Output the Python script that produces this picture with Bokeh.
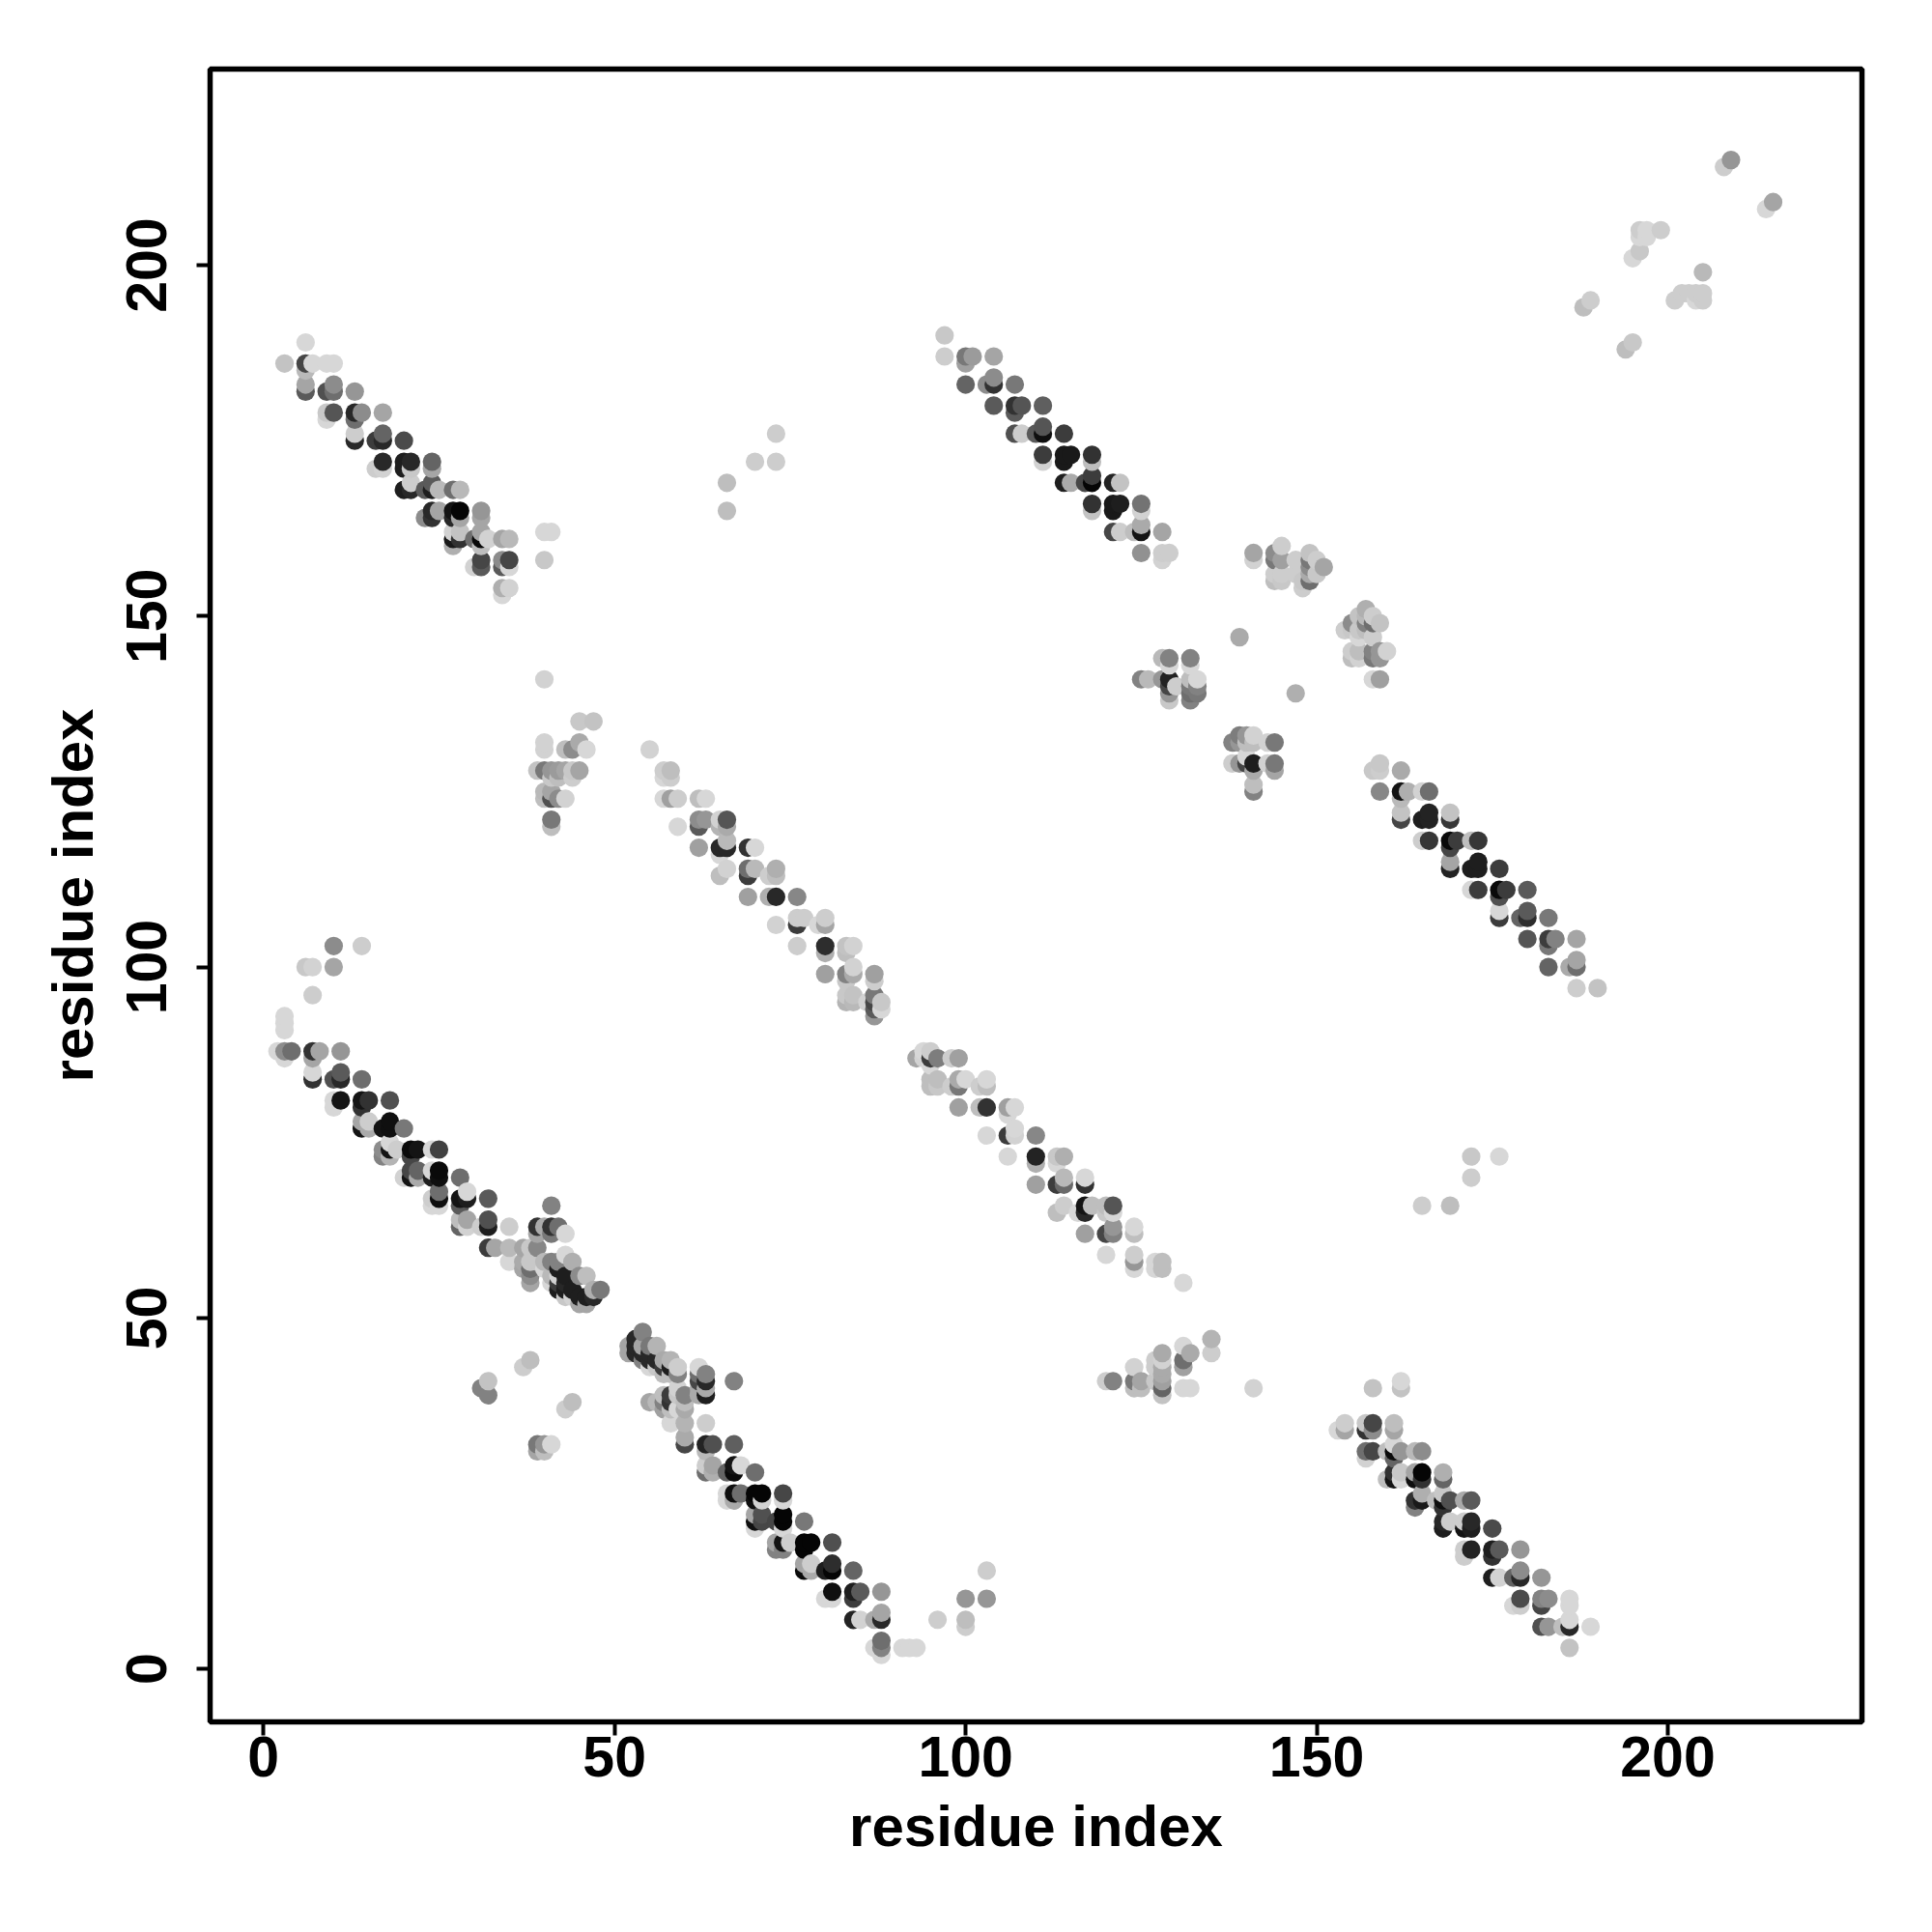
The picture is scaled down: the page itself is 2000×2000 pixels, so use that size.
from bokeh.plotting import figure
from bokeh.models import ColumnDataSource, FixedTicker, Range1d
from bokeh.embed import file_html
from bokeh.resources import INLINE
import numpy as np

tick_values = [0, 50, 100, 150, 200]
axis_title = "residue index"

# (residue i, residue j, grey level)
block_top_left = [(6,189,215),(3,186,195),(6,186,70),(7,186,215),(9,186,215),(10,186,215),(6,185,185),(6,183,165),(6,182,90),(9,182,80),(10,183,140),(10,182,110),(13,182,150),(9,179,200),(9,178,215),(10,179,85),(13,179,40),(13,178,110),(14,179,140),(17,179,165),(13,176,205),(13,175,40),(16,175,60),(17,176,100),(17,175,40),(20,175,75),(17,172,40),(16,171,205),(17,171,210),(20,172,30),(20,171,30),(21,172,40),(21,171,200),(24,172,100),(24,171,165),(20,168,30),(21,168,40),(21,169,205),(23,168,90),(24,169,90),(24,168,30),(25,168,185),(27,168,110),(28,168,185),(23,164,140),(24,165,40),(24,164,50),(25,165,165),(27,165,20),(27,164,40),(28,165,5),(28,164,165),(31,165,150),(31,164,165),(27,162,210),(27,161,25),(27,160,175),(28,162,195),(28,161,50),(30,161,110),(31,162,165),(31,161,10),(31,160,190),(32,161,210),(34,161,165),(35,161,185),(40,162,215),(41,162,215),(40,158,200),(30,157,210),(31,158,70),(31,157,90),(34,158,140),(34,157,90),(35,158,70),(35,157,215),(34,154,175),(34,153,215),(35,154,210)]
block_top_middle = [(97,190,200),(97,187,205),(100,187,120),(100,186,160),(101,187,155),(104,187,165),(100,183,100),(103,183,140),(104,184,140),(104,183,50),(107,183,120),(104,180,90),(107,180,50),(107,179,90),(108,180,85),(111,180,95),(107,176,80),(108,176,205),(110,176,90),(111,177,85),(111,176,15),(114,176,60),(111,173,60),(111,172,210),(114,173,25),(114,172,25),(115,173,25),(118,173,50),(118,172,190),(114,169,30),(115,169,170),(117,169,70),(118,170,60),(118,169,5),(121,169,35),(122,169,195),(118,166,50),(118,165,195),(121,166,25),(121,165,25),(122,166,30),(125,166,115),(125,165,210),(121,162,70),(122,162,205),(124,162,190),(125,163,170),(125,162,20),(128,162,165),(125,159,145),(128,159,205),(128,158,210),(129,159,205)]
block_left = [(3,93,215),(3,92,215),(3,91,215),(3,87,215),(2,88,215),(3,88,140),(4,88,110),(7,88,50),(7,87,165),(8,88,165),(11,88,150),(7,85,215),(7,84,50),(10,84,80),(11,85,90),(11,84,40),(14,84,110),(10,81,215),(10,80,215),(11,81,20),(14,81,20),(14,80,50),(15,81,50),(18,81,80),(14,78,165),(14,77,20),(15,78,205),(15,77,170),(17,77,20),(18,78,15),(18,77,15),(20,77,120),(17,74,140),(17,73,130),(18,75,215),(18,74,20),(18,73,180),(19,74,205),(21,74,10),(21,73,70),(22,74,20),(24,74,215),(25,74,65),(20,70,210),(21,71,70),(21,70,20),(22,71,100),(22,70,170),(24,71,215),(24,70,30),(25,71,10),(25,70,15),(28,70,110),(24,67,205),(24,66,215),(25,68,110),(25,67,15),(25,66,215),(28,67,20),(28,66,90),(29,68,215),(29,67,30),(32,67,90),(28,64,190),(28,63,100),(29,64,165),(29,63,210),(31,63,205),(32,64,80),(32,63,30),(35,63,205),(32,60,60),(33,60,165),(35,60,185),(37,60,165),(38,60,200),(39,60,135),(35,58,215),(37,58,170),(37,57,165),(38,58,200),(38,57,110),(38,56,140),(38,55,165)]
block_knot = [(41,66,130),(39,63,50),(40,63,170),(41,63,50),(42,63,110),(43,62,215),(39,62,165),(41,62,120),(39,58,200),(40,58,185),(40,57,215),(41,58,130),(43,59,215),(42,58,130),(44,58,175),(45,56,140),(46,56,190),(47,54,175),(48,54,120),(42,57,30),(42,56,210),(42,55,60),(43,56,30),(43,55,40),(44,54,30),(44,53,210),(45,53,30),(45,52,165),(46,53,30),(46,52,165),(47,53,40),(41,56,185),(41,55,215),(42,54,30),(43,54,30),(43,53,200)]
block_bottom = [(54,48,130),(52,46,165),(52,45,165),(53,47,40),(53,46,40),(53,45,40),(54,46,165),(54,45,40),(54,44,130),(55,46,120),(55,45,40),(55,44,40),(55,43,215),(56,46,180),(56,44,40),(56,43,200),(57,44,170),(57,43,60),(57,42,190),(58,44,180),(58,43,30),(58,42,190),(59,43,205),(59,42,130),(62,43,215),(62,42,110),(62,41,70),(63,42,130),(63,41,40),(63,40,170),(63,39,30),(62,40,170),(62,39,170),(67,41,130),(55,38,165),(56,38,185),(57,39,190),(57,38,130),(57,37,160),(58,39,60),(58,38,50),(58,37,190),(58,35,215),(59,40,210),(59,39,200),(59,37,215),(60,39,130),(60,38,190),(60,37,170),(60,35,180),(60,33,170),(60,32,70),(63,35,205),(63,32,35),(63,31,185),(64,32,80),(67,32,95),(63,29,205),(63,28,110),(64,29,165),(64,28,175),(66,28,100),(67,29,20),(67,28,10),(68,29,215),(70,28,110),(66,25,215),(66,24,215),(67,25,15),(67,24,170),(68,25,110),(70,25,5),(70,24,15),(71,25,5),(71,24,210),(74,25,70),(74,24,215),(70,22,165),(70,21,15),(70,20,215),(71,22,80),(71,21,70),(73,21,70),(74,22,5),(74,21,5),(74,20,215),(77,21,120),(73,18,165),(73,17,130),(74,18,20),(74,17,130),(75,18,205),(77,18,5),(77,17,5),(78,18,5),(81,18,80),(77,15,165),(77,14,10),(78,15,205),(78,14,170),(80,14,30),(81,15,45),(81,14,5),(84,14,100),(80,10,215),(81,11,15),(81,10,215),(84,11,30),(84,10,60),(85,11,90),(88,11,150),(84,7,35),(85,7,210),(87,7,170),(88,8,165),(88,7,40),(96,7,205),(87,3,215),(88,4,110),(88,3,130),(88,2,215),(91,3,215),(92,3,215),(93,3,215),(100,10,150),(100,7,190),(100,6,205),(103,10,150),(103,14,205)]
block_bottom_right = [(158,40,195),(162,41,215),(162,40,195),(153,34,215),(154,35,205),(154,34,165),(157,34,50),(157,35,200),(158,35,70),(158,34,140),(161,35,190),(161,34,165),(157,31,110),(157,30,210),(158,31,70),(160,31,190),(161,32,215),(161,31,10),(161,30,100),(162,31,150),(164,31,185),(165,31,140),(160,27,190),(161,28,50),(161,27,20),(162,28,200),(162,27,215),(164,28,165),(164,27,15),(165,28,5),(165,27,50),(168,28,175),(168,27,100),(164,24,50),(164,23,130),(165,25,175),(165,24,25),(167,24,190),(168,25,200),(168,24,15),(168,23,50),(169,24,80),(171,24,170),(172,24,90),(168,21,40),(168,20,30),(169,21,205),(171,21,205),(171,20,20),(172,21,40),(172,20,30),(175,20,75),(171,17,205),(171,16,205),(172,17,35),(175,17,30),(175,16,50),(176,17,90),(179,17,150),(175,13,30),(176,13,210),(178,13,100),(179,14,140),(179,13,40),(182,13,150),(178,9,215),(179,10,75),(179,9,205),(182,10,130),(182,9,70),(183,10,140),(186,10,215),(186,9,215),(182,6,80),(183,6,150),(185,6,190),(186,7,215),(186,6,40),(189,6,215),(186,3,195)]
block_right = [(158,128,200),(159,129,200),(159,128,205),(162,128,170),(159,125,135),(162,125,20),(162,124,185),(163,125,175),(165,125,210),(166,125,110),(162,122,195),(162,121,70),(165,121,30),(166,122,35),(166,121,35),(169,122,195),(169,121,55),(165,118,205),(166,118,55),(169,118,10),(169,117,70),(170,118,60),(172,118,190),(173,118,55),(169,115,165),(169,114,35),(172,114,30),(173,115,30),(173,114,30),(176,114,60),(172,111,215),(173,111,60),(176,111,10),(176,110,80),(177,111,60),(180,111,90),(176,108,215),(176,107,60),(179,107,100),(180,108,90),(180,107,45),(183,107,120),(180,104,85),(183,104,60),(183,103,120),(184,104,130),(187,104,165),(183,100,100),(186,100,170),(187,101,165),(187,100,110),(187,97,205),(190,97,195)]
block_centre = [(55,131,210),(57,128,205),(57,127,215),(58,128,190),(58,127,205),(57,124,215),(58,124,160),(59,124,205),(62,124,190),(63,124,215),(59,120,215),(62,121,140),(62,120,90),(63,121,150),(65,121,210),(65,120,180),(66,121,85),(66,120,170),(62,117,160),(65,117,40),(65,116,215),(66,118,185),(66,117,40),(69,117,50),(70,117,215),(65,113,190),(66,114,210),(69,114,110),(69,113,60),(70,114,185),(72,113,205),(73,114,175),(73,113,190),(69,110,160),(72,110,175),(73,110,40),(76,110,135),(73,106,210),(76,107,205),(76,106,60),(77,107,205),(79,106,215),(80,107,205),(80,106,165),(76,103,205),(80,103,45),(80,102,175),(83,103,195),(83,102,190),(84,103,210),(80,99,160),(83,99,130),(83,98,200),(84,100,210),(84,99,170),(87,99,160),(87,98,205),(83,96,200),(83,95,180),(84,96,195),(84,95,185),(86,95,210),(87,96,120),(87,95,70),(87,94,90),(87,93,150),(88,95,200),(88,94,215)]
block_centre_low = [(93,87,165),(94,88,215),(94,87,210),(95,88,205),(95,87,60),(95,86,215),(96,87,125),(98,87,205),(99,87,160),(95,84,190),(95,83,190),(96,84,190),(96,83,200),(98,83,205),(99,84,170),(99,83,120),(100,84,215),(102,83,205),(103,84,215),(103,83,190),(99,80,160),(102,80,190),(103,80,50),(106,80,160),(106,79,215),(107,80,215),(103,76,215),(106,76,60),(107,77,215),(107,76,210),(110,76,135),(106,73,215),(110,73,35),(110,72,175),(113,73,200),(113,72,215),(114,73,175),(110,69,160),(113,69,60),(114,70,185),(114,69,105),(117,70,215),(117,69,50),(113,65,190),(114,66,205),(116,65,215),(117,66,20),(117,65,40),(118,66,190),(120,66,190),(120,65,200),(121,66,85),(121,65,215),(117,62,160),(120,62,70),(121,63,150),(121,62,130),(124,63,215),(124,62,190),(120,59,215),(124,59,205),(124,58,150),(124,57,215),(127,58,215),(127,57,215),(128,58,190),(128,57,190),(131,55,215)]
block_clusters = [(141,159,165),(141,158,210),(144,159,140),(144,158,120),(145,160,205),(145,158,160),(144,156,205),(144,155,190),(145,156,205),(145,155,200),(147,158,205),(147,156,205),(148,155,200),(148,154,205),(149,159,195),(149,158,120),(149,157,140),(149,156,170),(149,155,110),(150,158,205),(150,156,200),(151,157,165),(154,148,205),(155,149,140),(155,148,200),(155,145,205),(155,144,190),(156,150,195),(156,148,200),(156,147,215),(156,145,190),(156,144,210),(157,151,175),(157,150,185),(157,149,130),(157,148,190),(158,147,205),(158,150,205),(158,149,110),(159,149,195),(158,145,130),(158,144,120),(159,145,150),(159,144,150),(160,145,210),(158,141,215),(159,141,160),(139,147,170),(147,139,175),(128,144,185),(129,144,130),(129,143,215),(132,144,130),(132,143,215),(125,141,130),(126,141,185),(128,141,150),(129,141,35),(129,140,70),(129,139,150),(129,138,200),(130,140,205),(132,141,190),(132,140,120),(132,139,110),(132,138,130),(133,141,215),(133,140,130),(133,139,120),(138,132,130),(139,133,125),(139,132,150),(140,133,150),(140,132,190),(141,133,210),(141,132,190),(143,132,210),(144,132,120),(138,129,205),(139,129,150),(140,130,215),(140,129,70),(141,129,30),(141,128,170),(143,129,210),(144,129,120),(144,128,165),(141,126,190),(141,125,130)]
block_mid_left = [(40,141,210),(45,135,200),(47,135,195),(40,132,210),(40,131,210),(43,131,190),(44,131,140),(45,132,170),(46,131,215),(39,128,195),(40,128,120),(41,128,150),(42,128,155),(43,128,165),(44,128,200),(45,128,165),(41,127,200),(42,127,190),(44,127,205),(40,125,185),(40,124,190),(41,125,165),(41,124,80),(42,124,140),(43,124,210),(41,121,120),(41,120,190)]
block_mid_low = [(120,41,205),(121,41,130),(124,43,210),(124,41,120),(124,40,190),(125,41,165),(125,40,190),(127,44,205),(127,43,205),(127,41,200),(128,45,170),(128,44,210),(128,43,170),(128,42,170),(128,41,160),(128,40,100),(128,39,195),(131,46,215),(131,44,110),(131,43,160),(132,45,170),(131,40,215),(132,40,215),(135,47,180),(135,45,205),(141,40,210)]
block_isolated = [(6,100,200),(7,100,210),(7,96,205),(10,103,140),(10,100,165),(14,103,205),(31,40,130),(32,41,195),(32,39,130),(37,43,205),(38,44,190),(43,37,205),(44,38,190),(39,32,120),(39,31,165),(40,32,150),(40,31,190),(41,32,215),(66,169,190),(66,165,190),(70,172,205),(73,172,205),(73,176,205),(165,66,205),(169,66,190),(172,73,200),(172,70,205),(176,73,215)]
block_top_right = [(209,215,150),(208,214,205),(215,209,165),(214,208,215),(199,205,205),(196,205,205),(197,205,215),(196,204,215),(197,204,215),(196,202,200),(195,201,215),(189,195,205),(188,194,190),(195,189,200),(194,188,190),(205,199,185),(201,195,205),(202,196,205),(203,196,205),(204,196,205),(205,196,205),(204,195,215),(205,195,205)]

blocks = [block_top_left, block_top_middle, block_left, block_knot, block_bottom, block_bottom_right,
          block_right, block_centre, block_centre_low, block_clusters, block_mid_left, block_mid_low,
          block_isolated, block_top_right]
points = sorted((t for b in blocks for t in b), key=lambda t: (t[0], t[1]))
xs = [t[0] for t in points]
ys = [t[1] for t in points]
colors = ["#{0:02x}{0:02x}{0:02x}".format(t[2]) for t in points]

p = figure(width=1992, height=1992, output_backend="svg", toolbar_location=None,
           x_range=Range1d(-7.6, 227.65), y_range=Range1d(-7.55, 227.95),
           min_border_left=217, min_border_right=65, min_border_top=71, min_border_bottom=210)
p.frame_width = 1710
p.frame_height = 1711
p.background_fill_color = "white"
p.border_fill_color = "white"
p.grid.visible = False
p.outline_line_color = "black"
p.outline_line_width = 5.5
p.outline_line_alpha = 1

source = ColumnDataSource(dict(x=xs, y=ys, c=colors))
p.circle("x", "y", source=source, radius=9.6, radius_units="screen", fill_color="c", line_color=None)

for ax in (p.xaxis[0], p.yaxis[0]):
    ax.ticker = FixedTicker(ticks=tick_values)
    ax.axis_label = axis_title
    ax.axis_label_text_font = "Liberation Sans"
    ax.axis_label_text_font_style = "bold"
    ax.axis_label_text_font_size = "60px"
    ax.axis_label_text_color = "black"
    ax.major_label_text_font = "Liberation Sans"
    ax.major_label_text_font_style = "bold"
    ax.major_label_text_font_size = "59px"
    ax.major_label_text_color = "black"
    ax.axis_line_color = None
    ax.major_tick_line_color = "black"
    ax.major_tick_line_width = 4
    ax.major_tick_in = 0
    ax.major_tick_out = 14
    ax.minor_tick_line_color = None
p.xaxis[0].major_label_standoff = 1
p.xaxis[0].axis_label_standoff = 15
p.yaxis[0].major_label_standoff = 31
p.yaxis[0].axis_label_standoff = 20
p.yaxis[0].major_label_orientation = "vertical"

open("out.html", "w").write(file_html(p, INLINE))
